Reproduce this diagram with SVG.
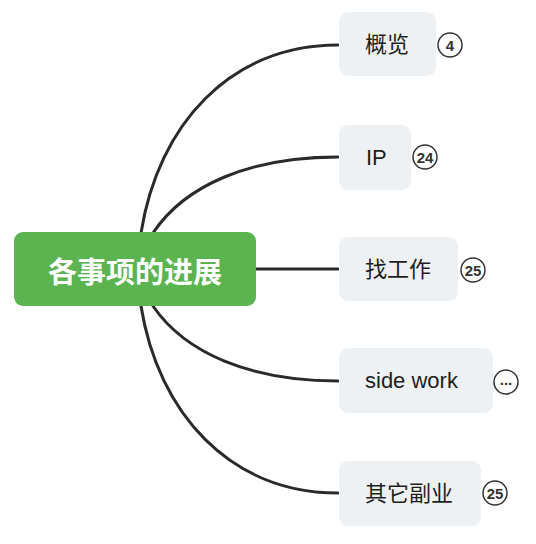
<svg xmlns="http://www.w3.org/2000/svg" width="536" height="544" viewBox="0 0 536 544">
<style>
.c{fill:none;stroke:#2a2a2a;stroke-width:3;stroke-linecap:round}
.box{fill:#eef1f3}
.t{font-family:"Liberation Sans","Noto Sans CJK SC",sans-serif;font-size:22px;fill:#1e1e1e;dominant-baseline:central}
.b{fill:#fff;stroke:#333;stroke-width:1.5}
.bt{font-family:"Liberation Sans",sans-serif;font-size:15px;font-weight:bold;fill:#333;text-anchor:middle;dominant-baseline:central}
</style>
<rect width="536" height="544" fill="#fff"/>
<g id="connectors">
<path class="c" d="M141,233 C158,125 230,45 338,45"/>
<path class="c" d="M153,233 C185,185 250,157 338,157"/>
<path class="c" d="M256,269 L338,269"/>
<path class="c" d="M153,306 C185,353 250,381 338,381"/>
<path class="c" d="M141,306 C158,413 230,493 338,493"/>
</g>
<g id="root">
<rect x="14" y="232" width="242" height="74" rx="9" fill="#5bb44f"/>
<text x="135" y="270" font-family="'Noto Sans CJK SC',sans-serif" font-size="29" font-weight="bold" fill="#fff" text-anchor="middle" dominant-baseline="central">各事项的进展</text>
</g>
<g id="n1">
<rect class="box" x="339" y="12" width="97" height="64" rx="9"/>
<text class="t" x="365" y="44">概览</text>
<circle class="b" cx="450" cy="45" r="12"/>
<text class="bt" x="450" y="45">4</text>
</g>
<g id="n2">
<rect class="box" x="339" y="125" width="72" height="65" rx="9"/>
<text class="t" x="366" y="157">IP</text>
<circle class="b" cx="425" cy="157" r="12"/>
<text class="bt" x="425" y="157">24</text>
</g>
<g id="n3">
<rect class="box" x="339" y="237" width="119" height="64" rx="9"/>
<text class="t" x="365" y="269">找工作</text>
<circle class="b" cx="473" cy="270" r="12"/>
<text class="bt" x="473" y="270">25</text>
</g>
<g id="n4">
<rect class="box" x="339" y="348" width="154" height="65" rx="9"/>
<text class="t" x="365" y="380">side work</text>
<circle class="b" cx="506" cy="382" r="12"/>
<text class="bt" x="506" y="379" font-weight="normal" font-size="13">...</text>
</g>
<g id="n5">
<rect class="box" x="339" y="461" width="142" height="65" rx="9"/>
<text class="t" x="365" y="493">其它副业</text>
<circle class="b" cx="495" cy="493" r="12"/>
<text class="bt" x="495" y="493">25</text>
</g>
</svg>
